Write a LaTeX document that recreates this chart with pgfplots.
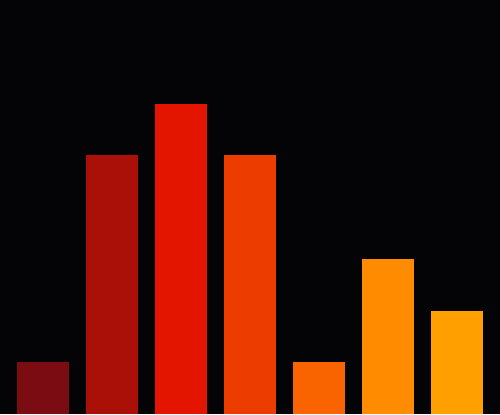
\documentclass[border=0pt]{standalone}
\usepackage{pgfplots}
\pgfplotsset{compat=1.18}
\definecolor{bgdark}{RGB}{4,4,6}
\definecolor{cA}{RGB}{122,12,18}
\definecolor{cB}{RGB}{171,16,8}
\definecolor{cC}{RGB}{227,21,0}
\definecolor{cD}{RGB}{236,60,0}
\definecolor{cE}{RGB}{249,100,0}
\definecolor{cF}{RGB}{255,140,0}
\definecolor{cG}{RGB}{255,160,0}
\begin{document}
\begin{tikzpicture}
\fill[bgdark] (0,0) rectangle (10,8.28);
\useasboundingbox (0,0) rectangle (10,8.28);
\begin{axis}[
  at={(0,0)}, anchor=south west,
  width=10cm, height=8.28cm, scale only axis,
  xmin=-0.623, xmax=6.623,
  ymin=0, ymax=8,
  hide axis,
  ybar, bar width=0.754, bar shift=0pt,
  every axis plot/.append style={draw=none},
]
\addplot[fill=cA] coordinates {(0,1)};
\addplot[fill=cB] coordinates {(1,5)};
\addplot[fill=cC] coordinates {(2,6)};
\addplot[fill=cD] coordinates {(3,5)};
\addplot[fill=cE] coordinates {(4,1)};
\addplot[fill=cF] coordinates {(5,3)};
\addplot[fill=cG] coordinates {(6,2)};
\end{axis}
\end{tikzpicture}
\end{document}
